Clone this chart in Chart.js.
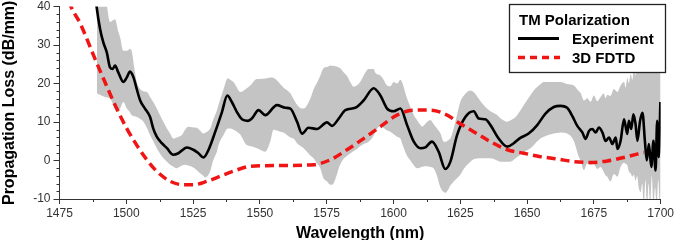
<!DOCTYPE html>
<html><head><meta charset="utf-8">
<script src="https://cdn.jsdelivr.net/npm/chart.js@4.4.1/dist/chart.umd.min.js"></script>
<style>html,body{margin:0;padding:0;background:#fff;overflow:hidden}#wrap{width:676px;height:240px}</style>
</head><body><div id="wrap"><canvas id="c" width="676" height="240"></canvas></div>
<script>
// Experiment (black line)
const expX=[1487.8,1488.9,1490.2,1491.4,1492.7,1493.9,1494.9,1495.8,1497.0,1498.9,1500.2,1501.4,1502.7,1503.9,1505.2,1507.0,1508.9,1510.1,1511.4,1513.3,1515.2,1517.6,1519.5,1522.7,1525.1,1527.0,1528.9,1530.8,1533.3,1535.8,1537.8,1539.5,1541.4,1543.3,1545.5,1547.0,1549.5,1552.0,1556.4,1559.5,1561.4,1563.9,1565.8,1568.2,1571.4,1575.1,1577.0,1579.5,1582.0,1585.7,1588.8,1592.6,1595.1,1597.6,1600.1,1602.6,1605.1,1607.6,1610.1,1611.9,1614.4,1616.9,1619.4,1621.3,1623.8,1626.9,1630.0,1631.9,1634.4,1636.3,1639.4,1642.6,1645.0,1647.5,1650.6,1653.8,1656.9,1660.0,1662.5,1665.0,1666.9,1668.8,1670.7,1671.9,1673.2,1674.4,1675.7,1676.9,1678.2,1679.4,1680.7,1681.9,1683.2,1683.8,1685.0,1686.3,1687.5,1688.1,1689.0,1689.8,1690.6,1691.3,1692.3,1693.2,1694.1,1694.8,1695.6,1696.5,1697.3,1698.1,1698.7,1699.3,1699.9];
const expY=[47,39.9,34.1,30.7,28.1,24.2,23.8,24.7,22.9,20.4,21.6,23.1,21.6,18.6,15.6,13.5,11.3,8.3,6.2,4.5,3.2,1.5,1.9,3.4,2.8,1.9,0.8,2.8,7.5,12.6,16.9,15.2,12.6,10.7,10.3,10.9,13.1,11.8,14.4,13.7,13.5,10.1,7.0,8.5,8.2,9.9,9.0,10.9,13.1,13.7,15.6,18.8,16.9,13.5,12.8,13.5,9.2,4.9,3.2,3.4,4.9,2.3,-2.2,-0.3,6.6,11.3,12.8,10.9,10.7,9.2,5.7,3.6,4.5,5.9,7.0,9.2,12.2,13.9,14.2,13.7,11.6,9.0,7.3,5.6,7.7,8.2,7.3,8.6,7.3,5.1,6.0,4.3,6.0,3.0,5.1,10.7,6.9,10.3,8.2,12.0,9.5,5.1,10.3,12.4,5.1,0.0,4.3,-1.7,5.1,-2.6,10.3,0.9,15.2];
// Experimental uncertainty band (grey)
const bandX=[1489.0,1490.2,1492.0,1493.9,1495.8,1497.0,1497.7,1498.9,1500.2,1501.4,1502.0,1503.0,1503.9,1505.2,1506.4,1507.7,1508.9,1510.1,1511.4,1512.6,1513.9,1515.2,1516.4,1517.6,1518.9,1520.8,1522.0,1523.2,1525.1,1526.4,1527.6,1528.9,1529.5,1531.4,1532.5,1533.9,1534.5,1536.4,1538.0,1538.9,1540.1,1541.4,1542.6,1545.1,1546.4,1548.9,1550.1,1552.0,1553.9,1555.1,1557.6,1558.8,1561.4,1562.6,1563.9,1565.8,1566.4,1568.9,1570.1,1571.4,1572.6,1573.8,1575.1,1576.4,1577.0,1578.9,1579.5,1580.1,1581.4,1582.6,1583.8,1585.1,1586.3,1587.6,1589.5,1590.7,1592.6,1593.2,1595.1,1596.3,1597.6,1598.8,1600.1,1601.3,1602.6,1603.2,1605.1,1605.7,1607.6,1608.8,1610.1,1610.7,1612.6,1613.8,1615.0,1616.3,1617.6,1618.8,1619.4,1620.5,1621.3,1622.0,1623.5,1625.0,1626.5,1628.8,1630.0,1632.5,1635.0,1636.3,1638.8,1640.0,1642.6,1643.7,1645.7,1647.5,1648.8,1651.3,1652.5,1655.0,1656.3,1660.0,1662.5,1665.0,1667.5,1669.4,1670.0,1671.3,1672.5,1673.8,1675.0,1676.3,1677.5,1678.7,1679.4,1680.0,1681.2,1682.5,1683.8,1685.0,1686.3,1686.9,1687.5,1688.1,1688.8,1689.4,1690.0,1690.6,1691.2,1691.8,1692.5,1693.1,1693.7,1694.3,1694.9,1695.5,1696.1,1696.7,1697.3,1697.9,1698.5,1699.1,1699.7,1700.0];
const bandUpper=[46,46,44,36,36.7,33.5,32.0,28.5,28.5,29.0,28.5,24.0,20.5,18.6,18.0,17.8,16.5,15.2,13.5,11.8,10.0,8.3,7.0,5.7,6.0,6.6,8.0,8.8,8.6,8.5,7.8,7.0,7.2,8.3,10.5,13.0,14.4,18.5,21.4,21.0,20.4,19.0,17.8,18.8,19.5,21.2,21.2,21.3,21.6,21.5,19.9,19.0,17.5,16.0,14.5,13.5,13.5,16.1,18.5,20.2,22.0,24.0,24.3,24.7,24.6,24.4,24.2,24.0,22.9,22.0,20.4,19.2,19.5,20.5,22.9,23.8,23.8,22.8,22.1,21.0,19.5,19.3,20.4,20.0,21.0,20.4,16.1,15.0,11.8,10.5,9.2,8.8,10.0,10.5,9.5,8.3,7.0,4.9,4.9,5.3,5.7,7.0,11.0,15.2,17.0,18.2,17.8,15.5,13.5,12.8,11.8,11.0,10.1,10.4,11.3,13.0,14.4,17.0,18.2,19.8,20.4,20.4,20.4,19.9,19.5,18.0,17.6,15.6,16.2,15.3,16.9,15.4,16.5,17.4,16.2,17.0,16.8,18.6,17.8,19.5,20.4,19.0,21.5,20.2,22.5,21.0,24.0,22.0,30.0,23.0,36.0,25.0,44.0,27.0,45.0,30.0,45.0,32.0,45.0,33.0,45.0,35.0,45.0,40.0];
const bandLower=[17.5,17.0,16.5,16.1,13.5,12.6,13.5,15.2,13.5,12.5,11.8,11.5,11.3,10.8,10.1,8.5,6.6,5.0,3.2,1.8,0.6,-0.3,-1.1,-1.6,-2.0,-1.3,-1.1,-1.3,-1.8,-2.5,-3.3,-4.0,-4.4,-2.8,0.0,2.3,4.0,6.6,8.3,8.3,8.0,7.5,6.8,4.0,3.8,3.2,2.8,2.3,5.0,8.0,7.5,7.3,6.0,5.7,4.5,3.5,3.2,1.3,0.6,-0.8,-2.0,-4.6,-5.4,-6.3,-6.3,-3.5,-2.0,-1.0,0.5,1.2,1.8,2.5,3.0,3.8,4.5,4.9,6.5,7.5,9.0,8.5,7.8,7.5,6.8,6.2,5.7,4.5,1.2,0.6,-1.2,-2.0,-1.8,-1.6,-1.5,-1.7,-2.0,-4.0,-7.1,-8.2,-8.4,-7.5,-6.5,-5.9,-4.8,-3.7,-2.0,-0.3,0.3,0.6,0.6,0.6,0.0,-0.3,-0.3,-0.3,0.6,1.5,2.2,3.2,4.0,5.7,6.2,7.0,7.3,7.0,5.1,0.9,0.0,-2.5,-0.8,-1.1,-0.9,-2.2,-1.7,-3.0,-3.9,-4.2,-5.4,-3.5,-4.2,-1.7,-0.6,-0.9,-1.2,-2.8,-3.4,-4.2,-3.7,-5.2,-4.0,-7.0,-8.2,-6.0,-12.0,-5.0,-12.0,-6.0,-12.0,-4.0,-12.0,-7.0,-12.0,-5.0,-12.0,-8.0];
// 3D FDTD (red dashed)
const fdtdX=[1477.0,1479.3,1482.7,1488.3,1492.0,1496.4,1500.2,1503.9,1507.7,1511.4,1516.4,1521.4,1525.1,1530.2,1535.1,1540.0,1546.4,1557.6,1570.1,1576.4,1582.6,1588.8,1595.1,1601.3,1607.6,1613.8,1620.1,1623.8,1630.0,1636.3,1642.6,1648.8,1655.0,1661.3,1667.5,1673.8,1680.0,1686.2,1693.7];
const fdtdY=[45,40,35.7,26.4,20.4,13.5,8.3,4.0,0.2,-2.8,-5.4,-6.3,-6.3,-5.4,-4.1,-2.8,-1.5,-1.3,-1.1,0.2,2.8,5.7,8.8,11.8,13.1,13.1,11.8,10.1,7.5,4.9,2.8,1.9,1.0,0.4,-0.3,-0.5,-0.1,0.8,2.1];
const legendTitle='TM Polarization';
const seriesNames=['Experiment','3D FDTD'];
const xTitle='Wavelength (nm)';
const yTitle='Propagation Loss (dB/mm)';

const pts=(xs,ys)=>xs.map((x,i)=>({x:x,y:ys[i]}));
const FONT='"Liberation Sans", Arial, Helvetica, sans-serif';
Chart.defaults.font.family=FONT;
const AX='#333';

const minorTicks={id:'minorTicks',afterDraw(chart){
  const ctx=chart.ctx,x=chart.scales.x,y=chart.scales.y;
  ctx.save();ctx.strokeStyle=AX;ctx.lineWidth=1;ctx.beginPath();
  for(let v=1487.5;v<1700;v+=25){const px=Math.round(x.getPixelForValue(v))+0.5;ctx.moveTo(px,y.bottom);ctx.lineTo(px,y.bottom+3);}
  for(let v=-8;v<40;v+=2){if(v%10===0)continue;const py=Math.round(y.getPixelForValue(v))+0.5;ctx.moveTo(x.left,py);ctx.lineTo(x.left-3,py);}
  ctx.stroke();ctx.restore();
}};
const boxLegend={id:'boxLegend',afterDraw(chart){
  const ctx=chart.ctx;const ds=chart.data.datasets;
  ctx.save();
  ctx.fillStyle='#fff';ctx.fillRect(509.5,4.5,156,68);
  ctx.strokeStyle='#222';ctx.lineWidth=1.3;ctx.strokeRect(509.5,4.5,156,68);
  ctx.fillStyle='#000';ctx.font='bold 15px '+FONT;ctx.textBaseline='alphabetic';ctx.textAlign='left';
  ctx.fillText(legendTitle,519,25);
  ctx.fillText(ds[2].label,572,43.5);
  ctx.fillText(ds[3].label,572,62.5);
  ctx.lineWidth=3;ctx.strokeStyle=ds[2].borderColor;ctx.beginPath();ctx.moveTo(518,38.5);ctx.lineTo(559,38.5);ctx.stroke();
  ctx.lineWidth=3.5;ctx.strokeStyle=ds[3].borderColor;ctx.setLineDash([7,5]);ctx.beginPath();ctx.moveTo(518,57.5);ctx.lineTo(560,57.5);ctx.stroke();
  ctx.restore();
}};

new Chart(document.getElementById('c'),{
  type:'line',
  data:{datasets:[
    {label:'lower',data:pts(bandX,bandLower),borderWidth:0,borderColor:'rgba(0,0,0,0)',pointRadius:0,fill:false,cubicInterpolationMode:'monotone',order:4},
    {label:'upper',data:pts(bandX,bandUpper),borderWidth:0,borderColor:'rgba(0,0,0,0)',backgroundColor:'rgb(196,196,196)',pointRadius:0,fill:'-1',cubicInterpolationMode:'monotone',order:3},
    {label:seriesNames[0],data:pts(expX,expY),borderColor:'#000',borderWidth:2.6,pointRadius:0,fill:false,cubicInterpolationMode:'monotone',order:2},
    {label:seriesNames[1],data:pts(fdtdX,fdtdY),borderColor:'#f01414',borderWidth:3.5,borderDash:[9,5],pointRadius:0,fill:false,cubicInterpolationMode:'monotone',order:1}
  ]},
  options:{
    responsive:false,animation:false,events:[],
    layout:{padding:{left:0,right:15,top:4,bottom:0}},
    plugins:{legend:{display:false},tooltip:{enabled:false}},
    scales:{
      x:{type:'linear',min:1475,max:1700,
        ticks:{stepSize:25,color:AX,padding:2,maxRotation:0,autoSkip:false,font:{size:12},callback:v=>String(v)},
        grid:{drawOnChartArea:false,drawTicks:true,tickLength:5,tickColor:AX},
        border:{display:true,color:AX,width:1},
        title:{display:true,text:xTitle,color:'#000',font:{size:16,weight:'bold',lineHeight:0.75},padding:{top:0,bottom:0}},
        afterFit(s){s.height=41;}
      },
      y:{type:'linear',min:-10,max:40,
        ticks:{stepSize:10,color:AX,padding:3,font:{size:12,lineHeight:0.6}},
        grid:{drawOnChartArea:false,drawTicks:true,tickLength:6,tickColor:AX},
        border:{display:true,color:AX,width:1},
        title:{display:true,text:yTitle,color:'#000',font:{size:16,weight:'bold',lineHeight:0.75},padding:{top:4,bottom:0}},
        afterFit(s){s.width=59.5;}
      }
    }
  },
  plugins:[minorTicks,boxLegend]
});
</script></body></html>
